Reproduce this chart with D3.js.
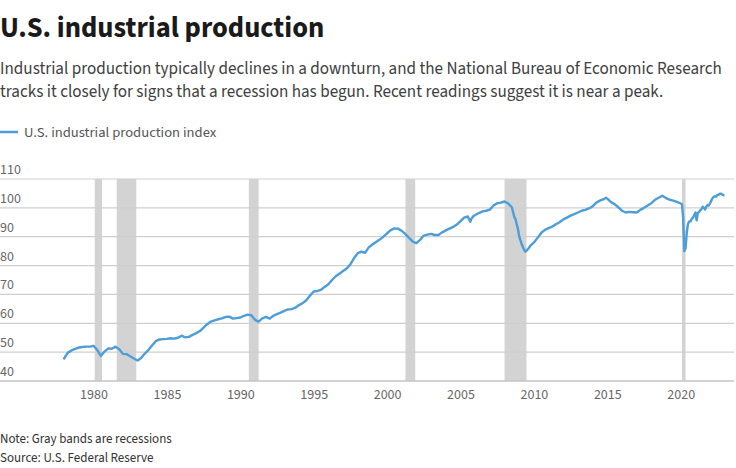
<!DOCTYPE html>
<html>
<head>
<meta charset="utf-8">
<script src="https://cdn.jsdelivr.net/npm/d3@7"></script>
<style>
  html, body { margin: 0; padding: 0; background: #fff; }
  svg { display: block; }
  text { font-family: "Source Sans Pro", "Source Sans 3", Lato, "Open Sans", sans-serif; }
</style>
</head>
<body>
<svg id="chart" width="736" height="468"></svg>
<script>
// ---- data ----
const dates = [
  "1978-01","1978-04","1978-07","1978-10",
  "1979-01","1979-04","1979-07","1979-10",
  "1980-01","1980-04","1980-07","1980-10",
  "1981-01","1981-04","1981-07","1981-10",
  "1982-01","1982-04","1982-07","1982-10",
  "1983-01","1983-04","1983-07","1983-10",
  "1984-01","1984-04","1984-07","1984-10",
  "1985-01","1985-04","1985-07","1985-10",
  "1986-01","1986-04","1986-07","1986-10",
  "1987-01","1987-04","1987-07","1987-10",
  "1988-01","1988-04","1988-07","1988-10",
  "1989-01","1989-04","1989-07","1989-10",
  "1990-01","1990-04","1990-07","1990-10",
  "1991-01","1991-04","1991-07","1991-10",
  "1992-01","1992-04","1992-07","1992-10",
  "1993-01","1993-04","1993-07","1993-10",
  "1994-01","1994-04","1994-07","1994-10",
  "1995-01","1995-04","1995-07","1995-10",
  "1996-01","1996-04","1996-07","1996-10",
  "1997-01","1997-04","1997-07","1997-10",
  "1998-01","1998-04","1998-07","1998-10",
  "1999-01","1999-04","1999-07","1999-10",
  "2000-01","2000-04","2000-07","2000-10",
  "2001-01","2001-04","2001-07","2001-10",
  "2002-01","2002-04","2002-07","2002-10",
  "2003-01","2003-04","2003-07","2003-10",
  "2004-01","2004-04","2004-07","2004-10",
  "2005-01","2005-04","2005-07","2005-09","2005-10","2005-12",
  "2006-01","2006-04","2006-07","2006-10",
  "2007-01","2007-04","2007-07","2007-10",
  "2008-01","2008-04","2008-07","2008-09","2008-10","2008-12",
  "2009-01","2009-03","2009-05","2009-06","2009-08","2009-10",
  "2010-01","2010-04","2010-07","2010-10",
  "2011-01","2011-04","2011-07","2011-10",
  "2012-01","2012-04","2012-07","2012-10",
  "2013-01","2013-04","2013-07","2013-10",
  "2014-01","2014-04","2014-07","2014-10","2014-12",
  "2015-01","2015-04","2015-07","2015-10",
  "2016-01","2016-04","2016-07","2016-10",
  "2017-01","2017-04","2017-07","2017-10",
  "2018-01","2018-04","2018-07","2018-10",
  "2019-01","2019-04","2019-07","2019-10",
  "2020-01","2020-02","2020-03","2020-04","2020-05","2020-06",
  "2020-07","2020-08","2020-09","2020-10","2020-11","2020-12",
  "2021-01","2021-02","2021-03","2021-04","2021-05","2021-06",
  "2021-07","2021-08","2021-09","2021-10","2021-11","2021-12",
  "2022-01","2022-02","2022-03","2022-04","2022-05","2022-06",
  "2022-07","2022-08","2022-09","2022-10","2022-11","2022-12"
];
const ipIndex = [
  47.8, 49.8, 50.6, 51.1,
  51.6, 51.8, 51.9, 51.9,
  52.2, 50.8, 48.7, 50.2,
  51.3, 51.2, 51.9, 51.0,
  49.4, 49.3, 48.6, 47.8,
  47.1, 48.0, 49.5, 50.8,
  52.4, 53.8, 54.4, 54.5,
  54.6, 54.8, 54.7, 55.0,
  55.7, 55.1, 55.3, 56.0,
  56.6, 57.3, 58.5, 59.7,
  60.6, 61.0, 61.4, 61.7,
  62.2, 62.3, 61.6, 61.8,
  62.0, 62.6, 63.0, 62.8,
  61.2, 60.6, 61.7, 62.2,
  61.6, 62.6, 63.2, 63.7,
  64.3, 64.8, 64.9, 65.4,
  66.3, 67.0, 68.0, 69.6,
  71.0, 71.2, 71.6, 72.6,
  73.5, 75.0, 76.3, 77.2,
  78.1, 79.0, 80.4, 82.6,
  84.3, 84.8, 84.4, 86.3,
  87.3, 88.2, 89.0, 90.0,
  91.2, 92.3, 92.9, 92.8,
  92.0, 90.9, 89.6, 88.3,
  87.8, 88.9, 90.4, 90.7,
  91.0, 90.6, 90.6, 91.5,
  92.2, 92.8, 93.4, 94.2,
  95.4, 96.6, 97.0, 95.2, 96.3, 97.3,
  97.5, 98.2, 98.8, 99.0,
  99.4, 100.8, 101.6, 101.8,
  102.2, 101.5, 100.2, 96.8, 96.0, 92.6,
  90.0, 87.5, 85.5, 84.8, 85.6, 86.8,
  88.0, 89.6, 91.3, 92.4,
  93.0, 93.5, 94.3, 95.0,
  96.0, 96.6, 97.3, 97.8,
  98.4, 99.0, 99.3, 99.8,
  100.5, 101.8, 102.5, 103.0, 103.5,
  103.2, 102.0, 101.3, 100.2,
  99.0, 98.4, 98.6, 98.5,
  98.4, 99.3, 100.0, 100.8,
  101.6, 102.8, 103.5, 104.2,
  103.4, 102.8, 102.5, 102.1,
  101.5, 101.3, 96.9, 85.0, 86.0, 91.5,
  94.5, 95.3, 95.3, 96.2, 96.6, 97.5,
  98.4, 95.7, 98.3, 98.5, 99.2, 99.5,
  100.4, 100.0, 99.4, 100.5, 101.0, 100.8,
  101.6, 102.5, 103.3, 103.9, 104.0, 103.9,
  104.5, 104.5, 104.9, 104.9, 104.6, 104.4
];
const recessionStarts = ["1980-02","1981-08","1990-08","2001-04","2008-01","2020-02"];
const recessionEnds   = ["1980-08","1982-12","1991-04","2001-12","2009-07","2020-05"];
const xTickYears = [1980, 1985, 1990, 1995, 2000, 2005, 2010, 2015, 2020];
const yTicks = [40, 50, 60, 70, 80, 90, 100, 110];

const titleText = "U.S. industrial production";
const subtitleLines = [
  "Industrial production typically declines in a downturn, and the National Bureau of Economic Research",
  "tracks it closely for signs that a recession has begun. Recent readings suggest it is near a peak."
];
const legendLabel = "U.S. industrial production index";
const noteText = "Note: Gray bands are recessions";
const sourceText = "Source: U.S. Federal Reserve";

// ---- layout ----
const parse = d3.timeParse("%Y-%m");
const series = dates.map((d, i) => ({ date: parse(d), value: ipIndex[i] }));
const bands = recessionStarts.map((s, i) => ({ start: parse(s), end: parse(recessionEnds[i]) }));

const svg = d3.select("#chart");
const gridLeft = 0, gridRight = 734;

const x = d3.scaleTime()
  .domain([new Date(1980, 0, 1), new Date(2020, 0, 1)])
  .range([93.5, 680.7]);
const y = d3.scaleLinear().domain([40, 110]).range([381, 179]);

// title / subtitle
svg.append("text").attr("x", 0).attr("y", 37)
  .attr("font-size", 28.5).attr("font-weight", 700).attr("fill", "#1a1a1a")
  .text(titleText);
subtitleLines.forEach((t, i) => {
  svg.append("text").attr("x", 0).attr("y", 74 + i * 23)
    .attr("font-size", 17.1).attr("fill", "#404040").text(t);
});

// legend
svg.append("line").attr("x1", 0).attr("x2", 18).attr("y1", 132).attr("y2", 132)
  .attr("stroke", "#4d9dd8").attr("stroke-width", 2.5);
svg.append("text").attr("x", 24).attr("y", 137)
  .attr("font-size", 14.6).attr("fill", "#555").text(legendLabel);

// recession bands
svg.append("g").selectAll("rect").data(bands).join("rect")
  .attr("x", d => x(d.start))
  .attr("width", d => Math.max(2.5, x(d.end) - x(d.start)))
  .attr("y", y(110))
  .attr("height", y(40) - y(110))
  .attr("fill", "#d3d3d3");

// gridlines + y labels
const yg = svg.append("g");
yg.selectAll("line").data(yTicks).join("line")
  .attr("x1", gridLeft).attr("x2", gridRight)
  .attr("y1", d => y(d)).attr("y2", d => y(d))
  .attr("stroke", d => d === 40 ? "#c4c4c4" : "#cfcfcf")
  .attr("stroke-width", d => d === 40 ? 1.6 : 1.2);
yg.selectAll("text").data(yTicks).join("text")
  .attr("x", 0).attr("y", d => y(d) - 5)
  .attr("font-size", 14).attr("fill", "#666")
  .text(d => d);

// x axis labels
const xa = svg.append("g").attr("transform", `translate(0,${y(40)})`)
  .call(d3.axisBottom(x)
    .tickValues(xTickYears.map(yr => new Date(yr, 0, 1)))
    .tickFormat(d3.timeFormat("%Y"))
    .tickSize(0).tickPadding(8));
xa.select(".domain").remove();
xa.selectAll("text").attr("font-size", 14).attr("fill", "#666")
  .attr("font-family", null);

// line
svg.append("path").datum(series)
  .attr("fill", "none").attr("stroke", "#4d9dd8").attr("stroke-width", 2.4)
  .attr("stroke-linejoin", "round").attr("stroke-linecap", "round")
  .attr("d", d3.line().x(d => x(d.date)).y(d => y(d.value)));

// notes
svg.append("text").attr("x", 0).attr("y", 443)
  .attr("font-size", 13).attr("fill", "#333").text(noteText);
svg.append("text").attr("x", 0).attr("y", 462)
  .attr("font-size", 13).attr("fill", "#333").text(sourceText);
</script>
</body>
</html>
